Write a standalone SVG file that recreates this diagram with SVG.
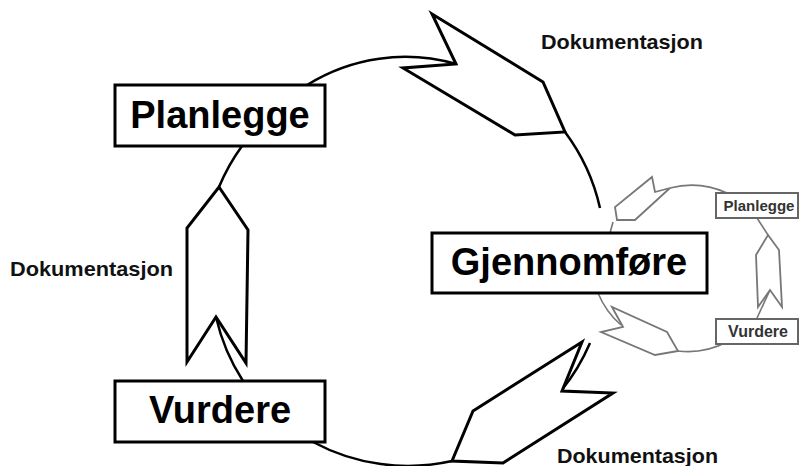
<svg xmlns="http://www.w3.org/2000/svg" width="799" height="466" viewBox="0 0 799 466">
<style>
.arc{fill:none;stroke:#000;stroke-width:2.5}
.arr{fill:#fff;stroke:#000;stroke-width:3;stroke-linejoin:miter}
.box{fill:#fff;stroke:#000;stroke-width:3}
.big{font-family:"Liberation Sans",Arial,sans-serif;font-weight:bold;font-size:38px;fill:#000;text-anchor:middle}
.lab{font-family:"Liberation Sans",Arial,sans-serif;font-weight:bold;font-size:21px;fill:#111}
.sarc{fill:none;stroke:#777;stroke-width:1.6}
.sarr{fill:#fff;stroke:#777;stroke-width:1.8}
.sbox{fill:#fff;stroke:#666;stroke-width:2}
.sm{font-family:"Liberation Sans",Arial,sans-serif;font-weight:bold;font-size:15px;fill:#333;text-anchor:middle}
</style>
<rect width="799" height="466" fill="#fff"/>
<g id="connectors">
<path class="arc" d="M307,85 A185,185 0 0 1 456,64"/>
<path class="arc" d="M565,132 A200,200 0 0 1 600,208"/>
<path class="arc" d="M590,343 A200,200 0 0 1 561,391"/>
<path class="arc" d="M452,461 A200,200 0 0 1 313,442"/>
<path class="arc" d="M243,381 A200,200 0 0 1 216,317"/>
<path class="arc" d="M219,187 A200,200 0 0 1 242,146"/>
<polygon id="arrow-top" class="arr" points="432,14 543,82 565,132 515,135 403,68 456,64"/>
<polygon id="arrow-left" class="arr" points="219,187 248,230 246,363 216,317 187,362 187,228"/>
<polygon id="arrow-bottom" class="arr" points="582,342 562,391 613,393 503,463 452,461 473,411"/>
</g>
<g id="small-connectors">
<path class="sarc" d="M670,188 A85,85 0 0 1 727,193"/>
<path class="sarc" d="M613,222 L610,233"/>
<path class="sarc" d="M598,293 A85,85 0 0 0 621,325"/>
<path class="sarc" d="M678,351 A85,85 0 0 0 727,342"/>
<path class="sarc" d="M757,218 L768,235"/>
<path class="sarc" d="M770,290 L757,318"/>
<polygon class="sarr" points="652,177 655,192 670,188 635,220 617,220 615,207"/>
<polygon class="sarr" points="612,307 623,327 601,332 655,355 678,351 667,332"/>
<polygon class="sarr" points="768,235 779,250 782,307 770,290 758,307 756,255"/>
</g>
<g id="planlegge">
<rect class="box" x="115" y="85" width="210" height="61"/>
<text class="big" x="220" y="128">Planlegge</text>
</g>
<g id="vurdere">
<rect class="box" x="115" y="381" width="210" height="61"/>
<text class="big" x="220" y="423">Vurdere</text>
</g>
<g id="gjennomfore">
<rect class="box" x="432" y="233" width="275" height="60"/>
<text class="big" x="569" y="275">Gjennomføre</text>
</g>
<g id="small-planlegge">
<rect class="sbox" x="716" y="193" width="82" height="25"/>
<text class="sm" x="759" y="211">Planlegge</text>
</g>
<g id="small-vurdere">
<rect class="sbox" x="716" y="319" width="82" height="25"/>
<text class="sm" x="758" y="337" style="font-size:16px">Vurdere</text>
</g>
<g id="labels">
<text class="lab" x="541" y="49" textLength="162" lengthAdjust="spacingAndGlyphs">Dokumentasjon</text>
<text class="lab" x="10" y="276" textLength="163" lengthAdjust="spacingAndGlyphs">Dokumentasjon</text>
<text class="lab" x="557" y="463" textLength="161" lengthAdjust="spacingAndGlyphs">Dokumentasjon</text>
</g>
</svg>
